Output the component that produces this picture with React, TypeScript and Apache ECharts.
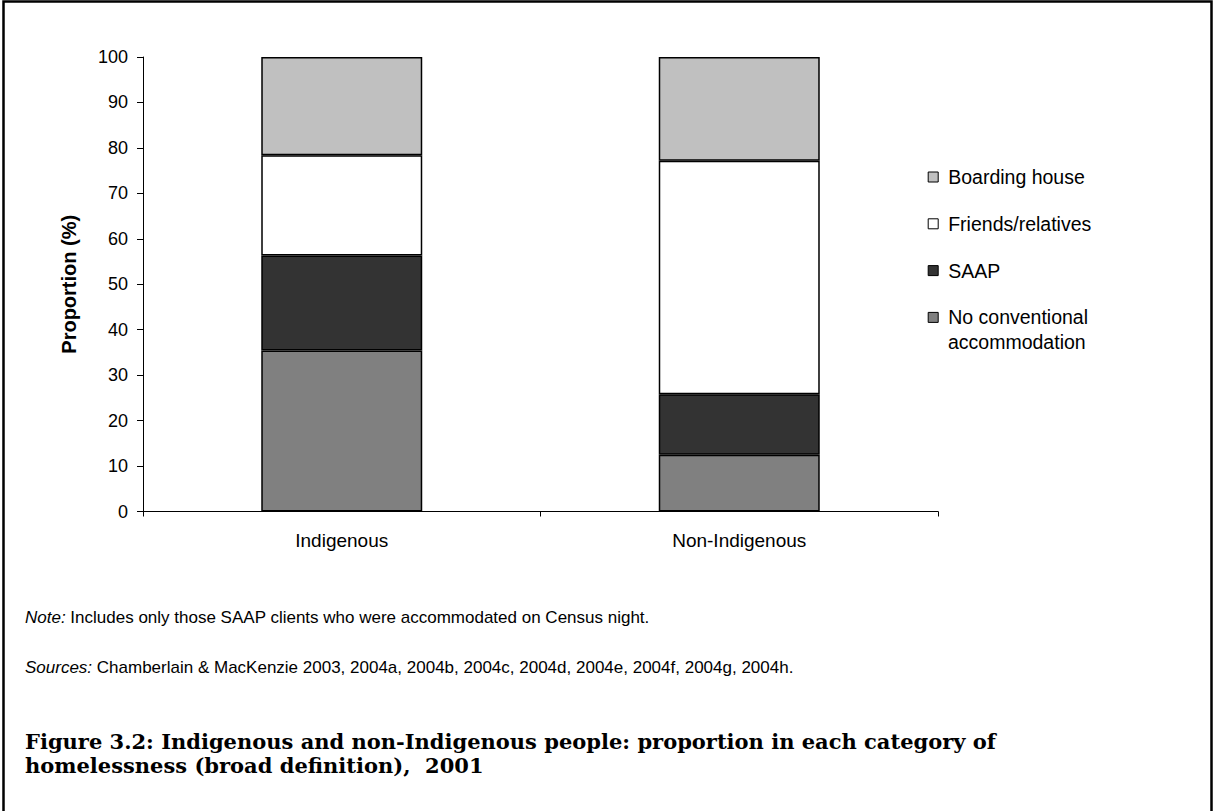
import React, { useEffect, useRef } from "react";
import * as echarts from "echarts";

const categories = ["Indigenous", "Non-Indigenous"];
const seriesNames = ["No conventional accommodation", "SAAP", "Friends/relatives", "Boarding house"];
const noConventional = [35.4, 12.5];
const saap = [20.9, 13.3];
const friendsRelatives = [22.1, 51.4];
const boardingHouse = [21.6, 22.8];
const seriesColors = ["#808080", "#333333", "#FFFFFF", "#C0C0C0"];
const legendOrder = ["Boarding house", "Friends/relatives", "SAAP", "No conventional accommodation"];

const noteText = "Includes only those SAAP clients who were accommodated on Census night.";
const sourcesText = "Chamberlain & MacKenzie 2003, 2004a, 2004b, 2004c, 2004d, 2004e, 2004f, 2004g, 2004h.";
const titleLine1 = "Figure 3.2: Indigenous and non-Indigenous people: proportion in each category of";
const titleLine2 = "homelessness (broad definition),  2001";

const SANS = "Arial, 'Liberation Sans', sans-serif";
const SERIF = "'Book Antiqua', Palatino, 'DejaVu Serif', serif";

export default function App() {
  const ref = useRef<HTMLDivElement>(null);
  useEffect(() => {
    if (!ref.current) return;
    const chart = echarts.init(ref.current, null, { renderer: "svg" });
    const values = [noConventional, saap, friendsRelatives, boardingHouse];
    chart.setOption({
      animation: false,
      backgroundColor: "#ffffff",
      grid: { left: 143, right: 275, top: 57, bottom: 299.5, outerBoundsMode: "none" },
      legend: {
        orient: "vertical",
        left: 927.7,
        top: 167,
        padding: 0,
        itemWidth: 10,
        itemHeight: 10,
        itemGap: 26.8,
        icon: "rect",
        itemStyle: { borderColor: "#000", borderWidth: 1 },
        textStyle: {
          fontSize: 19.5,
          lineHeight: 18,
          color: "#000",
          fontFamily: SANS,
          rich: { t: { fontSize: 19.5, lineHeight: 18, color: "#000", fontFamily: SANS, padding: [0, 0, 0, 5] } },
        },
        formatter: (name: string) =>
          name === "No conventional accommodation" ? "{t|No conventional}" : `{t|${name}}`,
        data: legendOrder,
      },
      xAxis: {
        type: "category",
        data: categories,
        axisLine: { lineStyle: { color: "#000", width: 1 } },
        axisTick: { show: true, length: 5, lineStyle: { color: "#000" } },
        axisLabel: { color: "#000", fontSize: 19, fontFamily: SANS, margin: 19 },
      },
      yAxis: {
        type: "value",
        min: 0,
        max: 100,
        interval: 10,
        name: "Proportion (%)",
        nameLocation: "middle",
        nameGap: 64,
        nameTextStyle: { fontSize: 20, fontWeight: "bold", color: "#000", fontFamily: SANS },
        axisLine: { show: true, lineStyle: { color: "#000", width: 1 } },
        axisTick: { show: true, length: 6, lineStyle: { color: "#000" } },
        axisLabel: { color: "#000", fontSize: 18, fontFamily: SANS, margin: 15 },
        splitLine: { show: false },
      },
      series: seriesNames.map((name, i) => ({
        name,
        type: "bar",
        stack: "total",
        barWidth: "40.5%",
        data: values[i],
        itemStyle: { color: seriesColors[i], borderColor: "#000", borderWidth: 1.5 },
      })),
      graphic: [
        {
          type: "rect",
          silent: true,
          shape: { x: 3.5, y: 1.5, width: 1208, height: 840 },
          style: { fill: "none", stroke: "#000", lineWidth: 2.5 },
        },
        {
          type: "text",
          x: 948,
          y: 342,
          style: { text: "accommodation", font: `19.5px ${SANS}`, fill: "#000", verticalAlign: "middle" },
        },
        {
          type: "text",
          x: 25,
          y: 617,
          style: {
            text: "{i|Note:} " + noteText,
            rich: { i: { fontStyle: "italic", fontSize: 17, fontFamily: SANS, fill: "#000" } },
            font: `17px ${SANS}`,
            fill: "#000",
            verticalAlign: "middle",
          },
        },
        {
          type: "text",
          x: 25,
          y: 667,
          style: {
            text: "{i|Sources:} " + sourcesText,
            rich: { i: { fontStyle: "italic", fontSize: 17, fontFamily: SANS, fill: "#000" } },
            font: `17px ${SANS}`,
            fill: "#000",
            verticalAlign: "middle",
          },
        },
        {
          type: "text",
          x: 25,
          y: 741,
          style: { text: titleLine1, font: `bold 21px ${SERIF}`, fill: "#000", verticalAlign: "middle" },
        },
        {
          type: "text",
          x: 25,
          y: 765,
          style: { text: titleLine2, font: `bold 21px ${SERIF}`, fill: "#000", verticalAlign: "middle" },
        },
      ],
    });
    return () => chart.dispose();
  }, []);
  return (
    <div
      ref={ref}
      style={{ position: "absolute", left: 0, top: 0, width: 1213, height: 811, background: "#fff" }}
    />
  );
}
